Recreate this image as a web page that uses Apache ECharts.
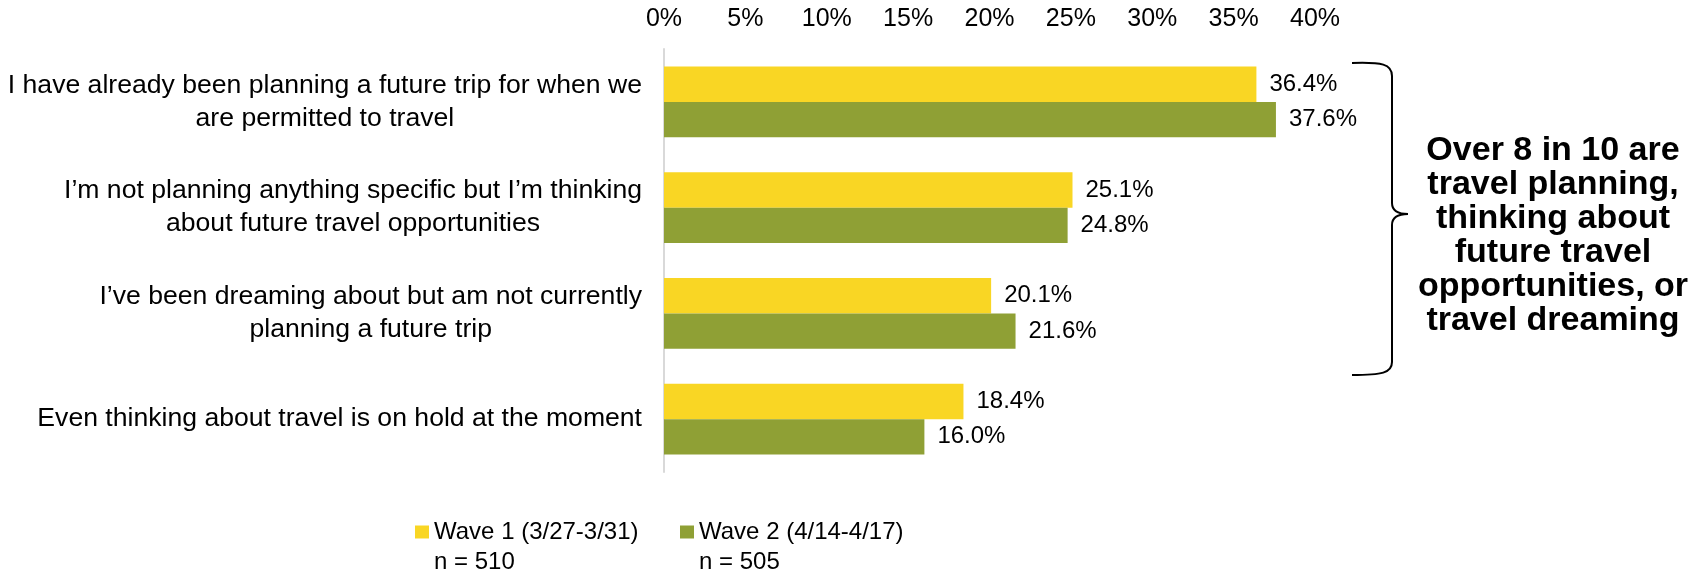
<!DOCTYPE html>
<html>
<head>
<meta charset="utf-8">
<script src="https://cdn.jsdelivr.net/npm/echarts@6/dist/echarts.min.js"></script>
<style>
  html, body { margin: 0; padding: 0; background: #fff; }
  #chart { width: 1700px; height: 573px; }
</style>
</head>
<body>
<div id="chart"></div>
<script>
// Survey answers (line breaks are where each label wraps)
const categories = [
  'I have already been planning a future trip for when we\nare permitted to travel',
  'I\u2019m not planning anything specific but I\u2019m thinking\nabout future travel opportunities',
  'I\u2019ve been dreaming about but am not currently\nplanning a future trip',
  'Even thinking about travel is on hold at the moment'
];
const waveNames = ['Wave 1 (3/27-3/31)', 'Wave 2 (4/14-4/17)'];
const sampleSizes = [510, 505];
const wave1 = [36.4, 25.1, 20.1, 18.4];
const wave2 = [37.6, 24.8, 21.6, 16.0];
const calloutLines = [
  'Over 8 in 10 are',
  'travel planning,',
  'thinking about',
  'future travel',
  'opportunities, or',
  'travel dreaming'
];

const FONT = "'Liberation Sans', Arial, sans-serif";
const YELLOW = '#F9D624';
const GREEN = '#8FA035';

const chart = echarts.init(document.getElementById('chart'), null, { renderer: 'canvas' });

function barSeries(name, data, color) {
  return {
    name: name,
    type: 'bar',
    data: data,
    barGap: '0%',
    barCategoryGap: '33%',
    itemStyle: { color: color },
    label: {
      show: true,
      position: 'right',
      distance: 13,
      formatter: p => p.value.toFixed(1) + '%',
      color: '#000',
      fontSize: 24,
      fontFamily: FONT
    }
  };
}

// Legend entry: the blank first line keeps the marker level with the wave name,
// with the sample size on the line below it.
function legendFor(i, left) {
  return {
    data: [waveNames[i]],
    left: left,
    top: 487,
    padding: 0,
    itemWidth: 14,
    itemHeight: 13,
    itemGap: 6,
    icon: 'rect',
    formatter: name => ' \n' + name + '\nn = ' + sampleSizes[i],
    textStyle: {
      color: '#000',
      fontSize: 24,
      fontFamily: FONT,
      lineHeight: 30
    }
  };
}

// curly brace grouping the first three answers, built from curve and line pieces
const braceStyle = { stroke: '#000', lineWidth: 2, fill: null };
function curve(x1, y1, cpx1, cpy1, cpx2, cpy2, x2, y2) {
  return { type: 'bezierCurve', shape: { x1, y1, cpx1, cpy1, cpx2, cpy2, x2, y2 }, style: braceStyle };
}
function segment(x1, y1, x2, y2) {
  return { type: 'line', shape: { x1, y1, x2, y2 }, style: braceStyle };
}

const option = {
  backgroundColor: '#fff',
  animation: false,
  grid: { left: 664, right: 385, top: 49, bottom: 101, containLabel: false },
  xAxis: {
    type: 'value',
    position: 'top',
    min: 0,
    max: 40,
    interval: 5,
    axisLine: { show: false },
    axisTick: { show: false },
    splitLine: { show: false },
    axisLabel: {
      formatter: '{value}%',
      color: '#000',
      fontSize: 25,
      fontFamily: FONT,
      margin: 17
    }
  },
  yAxis: {
    type: 'category',
    data: categories,
    inverse: true,
    axisLine: { show: true, lineStyle: { color: '#d9d9d9', width: 2 } },
    axisTick: { show: false },
    axisLabel: {
      margin: 22,
      color: '#000',
      fontSize: 26.6,
      fontFamily: FONT,
      lineHeight: 33,
      formatter: v => v.split('\n').map(l => '{c|' + l + '}').join('\n'),
      rich: {
        c: { align: 'center', color: '#000', fontSize: 26.6, fontFamily: FONT, lineHeight: 33 }
      }
    }
  },
  legend: [legendFor(0, 415), legendFor(1, 680)],
  series: [
    barSeries(waveNames[0], wave1, YELLOW),
    barSeries(waveNames[1], wave2, GREEN)
  ],
  graphic: [
    {
      type: 'group',
      children: [
        curve(1352, 63, 1382, 62, 1392, 64, 1392, 76),
        segment(1392, 76, 1392, 203),
        curve(1392, 203, 1392, 211, 1398, 214, 1408, 214),
        curve(1408, 214, 1398, 214, 1392, 217, 1392, 225),
        segment(1392, 225, 1392, 362),
        curve(1392, 362, 1392, 373, 1382, 375, 1352, 375)
      ]
    },
    {
      type: 'text',
      x: 1553,
      y: 236,
      style: {
        text: calloutLines.join('\n'),
        fill: '#000',
        font: 'bold 34px ' + FONT,
        lineHeight: 34,
        align: 'center',
        verticalAlign: 'middle'
      }
    }
  ]
};

chart.setOption(option);
</script>
</body>
</html>
